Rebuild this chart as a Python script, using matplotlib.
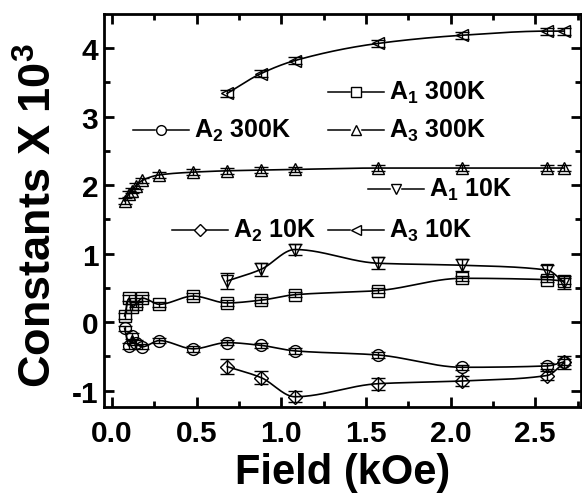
import numpy as np
import matplotlib
matplotlib.use("Agg")
import matplotlib.pyplot as plt
from matplotlib.lines import Line2D

plt.rcParams['font.family'] = ['Liberation Sans', 'DejaVu Sans']
plt.rcParams['font.weight'] = 'bold'
plt.rcParams['mathtext.fontset'] = 'custom'
plt.rcParams['mathtext.rm'] = 'Liberation Sans:bold'
plt.rcParams['mathtext.it'] = 'Liberation Sans:bold'
plt.rcParams['mathtext.bf'] = 'Liberation Sans:bold'

# ---- data ----
field_300 = [0.075, 0.10, 0.12, 0.14, 0.18, 0.28, 0.48, 0.68, 0.88, 1.08, 1.57, 2.07, 2.57, 2.67]
a1_300 = [0.09, 0.35, 0.22, 0.26, 0.35, 0.26, 0.38, 0.28, 0.32, 0.40, 0.46, 0.64, 0.62, 0.60]
a2_300 = [-0.09, -0.35, -0.20, -0.30, -0.36, -0.27, -0.39, -0.30, -0.34, -0.42, -0.48, -0.66, -0.64, -0.58]
a3_300 = [1.77, 1.87, 1.92, 1.99, 2.07, 2.15, 2.19, 2.21, 2.22, 2.23, 2.25, 2.25, 2.25, 2.25]
err_300 = [0.04] * 14

field_10 = [0.68, 0.88, 1.08, 1.57, 2.07, 2.57, 2.67]
a1_10 = [0.60, 0.77, 1.06, 0.86, 0.83, 0.76, 0.58]
a1_10_err = [0.11, 0.10, 0.08, 0.09, 0.085, 0.08, 0.09]
a2_10 = [-0.65, -0.81, -1.09, -0.90, -0.86, -0.78, -0.59]
a2_10_err = [0.11, 0.10, 0.08, 0.09, 0.08, 0.07, 0.09]
a3_10 = [3.34, 3.63, 3.82, 4.07, 4.19, 4.25, 4.25]
a3_10_err = [0.05] * 7

x_ticks = [0.0, 0.5, 1.0, 1.5, 2.0, 2.5]
y_ticks = [-1, 0, 1, 2, 3, 4]


def pchip(x, y, xs):
    x = np.asarray(x, float); y = np.asarray(y, float)
    h = np.diff(x); d = np.diff(y) / h
    n = len(x); m = np.zeros(n)
    for k in range(1, n - 1):
        if d[k - 1] * d[k] > 0:
            w1 = 2 * h[k] + h[k - 1]; w2 = h[k] + 2 * h[k - 1]
            m[k] = (w1 + w2) / (w1 / d[k - 1] + w2 / d[k])
    m[0] = d[0]; m[-1] = d[-1]
    idx = np.clip(np.searchsorted(x, xs) - 1, 0, n - 2)
    t = (xs - x[idx]) / h[idx]
    h00 = 2 * t**3 - 3 * t**2 + 1; h10 = t**3 - 2 * t**2 + t
    h01 = -2 * t**3 + 3 * t**2; h11 = t**3 - t**2
    return h00 * y[idx] + h10 * h[idx] * m[idx] + h01 * y[idx + 1] + h11 * h[idx] * m[idx + 1]


fig = plt.figure(figsize=(5.82, 5.02), dpi=100)
W, H = 582, 502
ax = fig.add_axes([104 / W, (H - 408) / H, 477 / W, 393 / H])

series = [
    (field_300, a1_300, err_300, 's'),
    (field_300, a2_300, err_300, 'o'),
    (field_300, a3_300, err_300, '^'),
    (field_10, a1_10, a1_10_err, 'v'),
    (field_10, a2_10, a2_10_err, 'D'),
    (field_10, a3_10, a3_10_err, '<'),
]
for xs, ys, es, mk in series:
    xx = np.linspace(xs[0], xs[-1], 400)
    ax.plot(xx, pchip(xs, ys, xx), color='black', lw=1.2, zorder=2)
    ms = 7.5 if mk == 'D' else 8.5
    ax.errorbar(xs, ys, yerr=es, fmt=mk, mfc='none', mec='black', mew=1.0,
                ms=ms, ecolor='black', elinewidth=1.0, capsize=5, capthick=1.2, zorder=3)

ax.set_xlim(-0.047, 2.77)
ax.set_ylim(-1.24, 4.5)
ax.set_xticks(x_ticks)
ax.set_xticklabels([f"{v:.1f}" for v in x_ticks])
ax.set_yticks(y_ticks)
ax.set_yticklabels([str(v) for v in y_ticks])
ax.set_xticks(np.arange(0.25, 2.8, 0.5), minor=True)
ax.set_yticks(np.arange(-0.5, 4.5, 1.0), minor=True)
ax.tick_params(which='both', direction='in', top=True, right=True, width=2)
ax.tick_params(which='major', length=7, labelsize=21.5)
ax.tick_params(axis='x', which='major', pad=9)
ax.tick_params(axis='y', which='major', pad=4)
ax.tick_params(which='minor', length=4)
for lab in ax.get_xticklabels() + ax.get_yticklabels():
    lab.set_fontweight('bold')
for s in ax.spines.values():
    s.set_linewidth(2)

ax.set_xlabel('Field (kOe)', fontsize=30, fontweight='bold')
ax.xaxis.set_label_coords(0.5, (408 - 473) / 393)
ax.xaxis.label.set_verticalalignment('center')
ax.set_ylabel('Constants X 10$^3$', fontsize=32.5, fontweight='bold')
ax.yaxis.set_label_coords((39 - 104) / 477, (408 - 216) / 393)
ax.yaxis.label.set_verticalalignment('center')

# ---- legend entries (hand placed, like the original) ----
leg = [
    ('s', 'A$_1$ 300K', 328, 93),
    ('o', 'A$_2$ 300K', 133, 131),
    ('^', 'A$_3$ 300K', 328, 131),
    ('v', 'A$_1$ 10K', 368, 190),
    ('D', 'A$_2$ 10K', 172, 231),
    ('<', 'A$_3$ 10K', 328, 231),
]
for mk, label, px, py in leg:
    fy = (H - py) / H
    fig.add_artist(Line2D([px / W, (px + 22) / W], [fy, fy], color='black', lw=1.1,
                          transform=fig.transFigure))
    fig.add_artist(Line2D([(px + 34) / W, (px + 56) / W], [fy, fy], color='black', lw=1.1,
                          transform=fig.transFigure))
    fig.add_artist(Line2D([(px + 28) / W], [fy], marker=mk, mfc='none', mec='black',
                          mew=1.0, ms=6.5 if mk == 'D' else 7, transform=fig.transFigure))
    fig.text((px + 61) / W, fy, label, fontsize=18, fontweight='bold',
             va='center', ha='left')

fig.savefig('out.png', dpi=100)
